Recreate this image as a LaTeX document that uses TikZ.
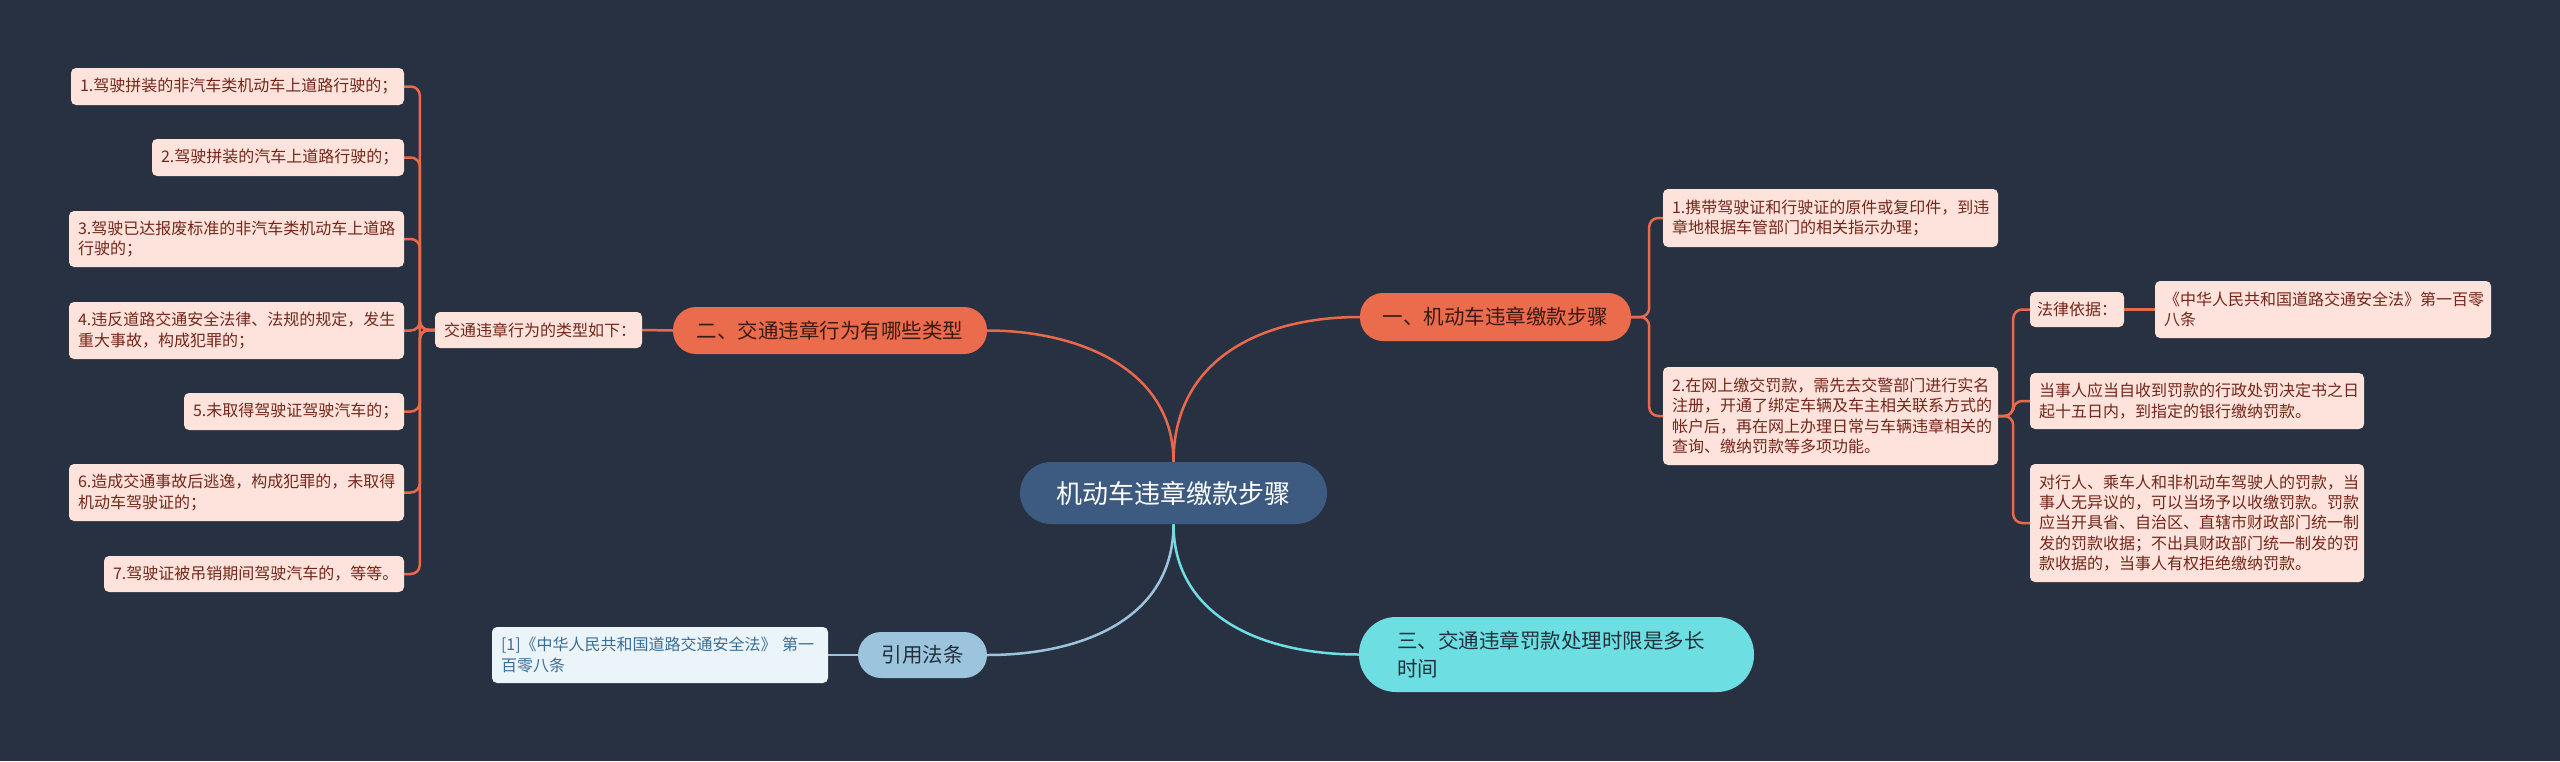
\documentclass[tikz,border=0pt]{standalone}
\usepackage{fontspec}
\setmainfont{Noto Sans CJK SC}
\usetikzlibrary{calc}
\definecolor{bgc}{HTML}{283142}
\definecolor{orangec}{HTML}{EB6B4D}
\definecolor{orangel}{HTML}{E8694B}
\definecolor{leafc}{HTML}{FDE3DB}
\definecolor{leaftxt}{HTML}{74261A}
\definecolor{branchtxt}{HTML}{3A1A12}
\definecolor{centerc}{HTML}{3D5A80}
\definecolor{bluec}{HTML}{9DC4DD}
\definecolor{citec}{HTML}{EBF4F9}
\definecolor{citetxt}{HTML}{3B6E97}
\definecolor{cyanc}{HTML}{6DDFE3}
\definecolor{darktxt}{HTML}{22303C}
\pgfdeclarelayer{bgl}
\pgfdeclarelayer{edgel}
\pgfsetlayers{bgl,edgel,main}
\begin{document}
\begin{tikzpicture}[x=1pt,y=-1pt,
  leaf/.style={fill=leafc, text=leaftxt, rounded corners=5pt, inner xsep=9pt, inner ysep=0pt, align=left, font=\fontsize{16}{20.3}\selectfont},
  branch/.style={fill=orangec, text=branchtxt, rounded corners=23pt, inner sep=0pt, align=center, font=\fontsize{20.5}{26}\selectfont},
  wire/.style={draw=orangel, line width=2.5pt, rounded corners=9pt},
  curve/.style={line width=2.5pt}]
\begin{pgfonlayer}{bgl}
\fill[bgc] (0,0) rectangle (2560,761);
\end{pgfonlayer}
\useasboundingbox (0,0) rectangle (2560,761);

% center
\node[fill=centerc, text=white, rounded corners=31pt, minimum width=307pt, minimum height=62pt, inner sep=0pt, font=\fontsize{26}{30}\selectfont] (c) at (1173.5,493) {机动车违章缴款步骤};

% branches
\node[branch, minimum width=271pt, minimum height=48pt] (b1) at (1495.5,317) {一、机动车违章缴款步骤};
\node[branch, minimum width=314pt, minimum height=47pt] (b2) at (830,330.5) {二、交通违章行为有哪些类型};
\node[branch, fill=cyanc, text=darktxt, minimum height=75pt, rounded corners=37pt, inner xsep=38pt, text width=319pt, align=left, font=\fontsize{20.5}{28}\selectfont] (b3) at (1556.5,654.5) {三、交通违章罚款处理时限是多长\\时间};
\node[branch, fill=bluec, text=darktxt, minimum width=129pt, minimum height=46pt] (b4) at (922.5,655) {引用法条};

% left leaves
\node[leaf, text width=189pt, minimum height=36pt] (types) at (538.5,330) {交通违章行为的类型如下：};
\node[leaf, text width=315pt, minimum height=37pt] (L1) at (237.5,86.5) {1.驾驶拼装的非汽车类机动车上道路行驶的；};
\node[leaf, text width=234pt, minimum height=37pt] (L2) at (278,157.5) {2.驾驶拼装的汽车上道路行驶的；};
\node[leaf, text width=317pt, minimum height=56pt] (L3) at (236.5,239) {3.驾驶已达报废标准的非汽车类机动车上道路\\行驶的；};
\node[leaf, text width=317pt, minimum height=57pt] (L4) at (236.5,330.5) {4.违反道路交通安全法律、法规的规定，发生\\重大事故，构成犯罪的；};
\node[leaf, text width=202pt, minimum height=37pt] (L5) at (294,411.5) {5.未取得驾驶证驾驶汽车的；};
\node[leaf, text width=317pt, minimum height=57pt] (L6) at (236.5,492.5) {6.造成交通事故后逃逸，构成犯罪的，未取得\\机动车驾驶证的；};
\node[leaf, text width=282pt, minimum height=36pt] (L7) at (254,574) {7.驾驶证被吊销期间驾驶汽车的，等等。};

% cite
\node[leaf, fill=citec, text=citetxt, text width=318pt, minimum height=56pt] (cite) at (660,655) {[1]《中华人民共和国道路交通安全法》 第一\\百零八条};

% right leaves
\node[leaf, text width=317pt, minimum height=58pt] (R1) at (1830.5,218) {1.携带驾驶证和行驶证的原件或复印件，到违\\章地根据车管部门的相关指示办理；};
\node[leaf, text width=317pt, minimum height=98pt] (R2) at (1830.5,416) {2.在网上缴交罚款，需先去交警部门进行实名\\注册，开通了绑定车辆及车主相关联系方式的\\帐户后，再在网上办理日常与车辆违章相关的\\查询、缴纳罚款等多项功能。};
\node[leaf, inner xsep=7pt, text width=80pt, minimum height=35pt] (basis) at (2077,309.5) {法律依据：};
\node[leaf, text width=318pt, minimum height=57pt] (law) at (2323,309.5) {《中华人民共和国道路交通安全法》第一百零\\八条};
\node[leaf, text width=316pt, minimum height=56pt] (P1) at (2197,401) {当事人应当自收到罚款的行政处罚决定书之日\\起十五日内，到指定的银行缴纳罚款。};
\node[leaf, text width=316pt, minimum height=118pt] (P2) at (2197,523) {对行人、乘车人和非机动车驾驶人的罚款，当\\事人无异议的，可以当场予以收缴罚款。罚款\\应当开具省、自治区、直辖市财政部门统一制\\发的罚款收据；不出具财政部门统一制发的罚\\款收据的，当事人有权拒绝缴纳罚款。};

\begin{pgfonlayer}{edgel}
% main curves
\draw[curve, draw=orangel] (c.north) .. controls (1173.5,360) and (1260,317) .. (b1.west);
\draw[curve, draw=orangel] (c.north) .. controls (1173.5,370) and (1080,330.5) .. (b2.east);
\draw[curve, draw=bluec] (c.south) .. controls (1173.5,620) and (1080,655) .. (b4.east);
\draw[curve, draw=cyanc] (c.south) .. controls (1173.5,615) and (1260,654.5) .. (b3.west);
% left side
\draw[wire] (b2.west) -- (types.east);
\foreach \n in {L1,L2,L3,L4,L5,L6,L7}
  \draw[wire] (types.west) -- ++(-15,0) |- (\n.east);
\draw[wire, draw=bluec] (b4.west) -- (cite.east);
% right side
\foreach \n in {R1,R2}
  \draw[wire] (b1.east) -- ++(18,0) |- (\n.west);
\foreach \n in {basis,P1,P2}
  \draw[wire] (R2.east) -- ++(15,0) |- (\n.west);
\draw[wire] (basis.east) -- (law.west);
\end{pgfonlayer}
\end{tikzpicture}
\end{document}
